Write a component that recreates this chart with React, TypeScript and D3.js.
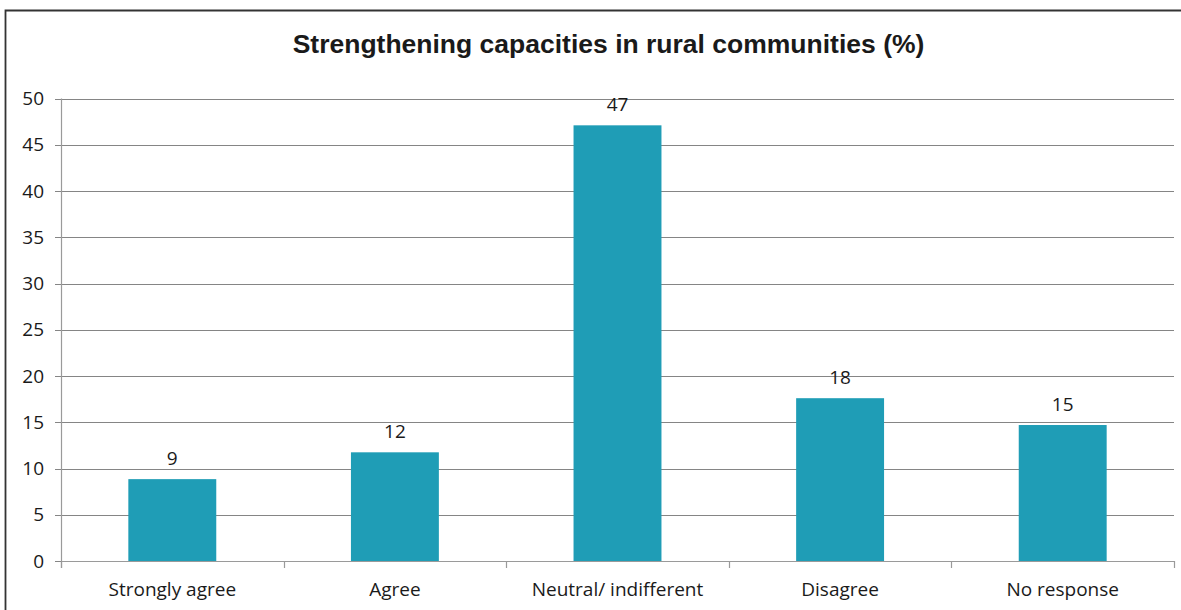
import React from "react";
import * as d3 from "d3";

const title = "Strengthening capacities in rural communities (%)";
const categories = ["Strongly agree", "Agree", "Neutral/ indifferent", "Disagree", "No response"];
const values = [8.85, 11.75, 47.1, 17.6, 14.7];
const labels = ["9", "12", "47", "18", "15"];
const yTicks = [0, 5, 10, 15, 20, 25, 30, 35, 40, 45, 50];

export default function App() {
  const W = 1181, H = 610;
  const left = 61, right = 1174, top = 98.5, bottom = 561;
  const x = d3.scaleBand<string>().domain(categories).range([left, right]).paddingInner(0.605).paddingOuter(0.3025);
  const xb = d3.scaleBand<string>().domain(categories).range([left, right]);
  const y = d3.scaleLinear().domain([0, 50]).range([bottom, top]);
  const font = "'Open Sans', sans-serif";
  return (
    <svg width={W} height={H} style={{ position: "absolute", left: 0, top: 0 }}>
      <rect x={0} y={0} width={W} height={H} fill="#fff" />
      <path d={`M5.5,${H} V10.5 H${W}`} fill="none" stroke="#333" strokeWidth={1.8} />
      <text x={608.5} y={53} textAnchor="middle" fontFamily="'Liberation Sans', Arial, sans-serif" fontWeight="bold" fontSize={26.5} fill="#1a1a1a">{title}</text>
      {yTicks.map((t) => (
        <g key={t}>
          {t > 0 && <line x1={left} x2={right} y1={Math.round(y(t)) + 0.5} y2={Math.round(y(t)) + 0.5} stroke="#858585" strokeWidth={1} />}
          <line x1={55} x2={left} y1={Math.round(y(t)) + 0.5} y2={Math.round(y(t)) + 0.5} stroke="#858585" strokeWidth={1} />
          <text x={44} y={y(t)} dy="0.35em" textAnchor="end" fontFamily={font} fontSize={19} fill="#1a1a1a">{t}</text>
        </g>
      ))}
      {categories.map((c, i) => (
        <g key={c}>
          <rect x={x(c)} y={y(values[i])} width={x.bandwidth()} height={bottom - y(values[i])} fill="#1f9db6" />
          <text x={(x(c) as number) + x.bandwidth() / 2} y={y(values[i]) - 14} textAnchor="middle" fontFamily={font} fontSize={19} fill="#1a1a1a">{labels[i]}</text>
          <text x={(xb(c) as number) + xb.bandwidth() / 2} y={596} textAnchor="middle" fontFamily={font} fontSize={19} fill="#1a1a1a">{c}</text>
        </g>
      ))}
      <line x1={left + 0.5} x2={left + 0.5} y1={top} y2={bottom + 7} stroke="#9a9a9a" strokeWidth={1.2} />
      <line x1={left} x2={right} y1={bottom + 0.5} y2={bottom + 0.5} stroke="#9a9a9a" strokeWidth={1.2} />
      {[...categories.map((c) => xb(c) as number), right].map((v, i) => (
        <line key={i} x1={Math.round(v) + 0.5} x2={Math.round(v) + 0.5} y1={bottom} y2={bottom + 7} stroke="#9a9a9a" strokeWidth={1.2} />
      ))}
    </svg>
  );
}
